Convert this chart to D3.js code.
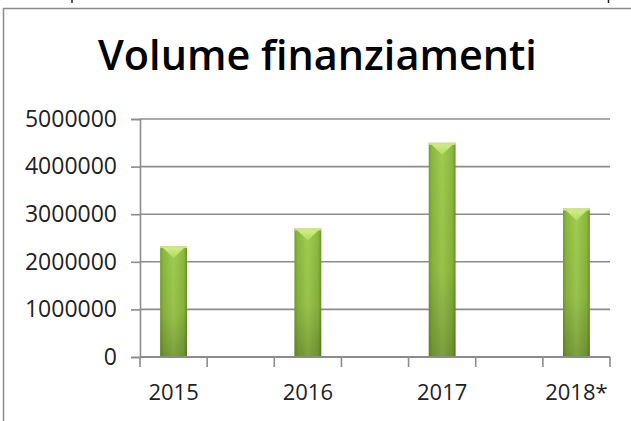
<!DOCTYPE html>
<html><head><meta charset="utf-8">
<script src="https://cdn.jsdelivr.net/npm/d3@7"></script>
<style>html,body{margin:0;padding:0;background:#fff;overflow:hidden}</style>
</head><body>
<svg id="c" width="631" height="421"></svg>
<script>
const title = "Volume finanziamenti";
const categories = ["2015", "", "2016", "", "2017", "", "2018*"];
const values = [2330000, null, 2700000, null, 4500000, null, 3120000];
const yTicks = [0, 1000000, 2000000, 3000000, 4000000, 5000000];

const svg = d3.select("#c");
const W = 631, H = 421;
const m = {left: 140, right: 21, top: 119, bottom: 64};

// frame
svg.append("path").attr("d", `M3.5,${H} V8.5 H${W}`).attr("fill","none").attr("stroke","#8a8a8a").attr("stroke-width",1.5);
svg.append("line").attr("x1",72).attr("x2",72).attr("y1",0).attr("y2",3).attr("stroke","#222").attr("stroke-width",1.5);
svg.append("line").attr("x1",608.5).attr("x2",608.5).attr("y1",0).attr("y2",3).attr("stroke","#222").attr("stroke-width",1.5);

const x = d3.scaleBand().domain(d3.range(categories.length)).range([m.left, W - m.right]).paddingInner(0.6).paddingOuter(0.3);
const y = d3.scaleLinear().domain([0, 5000000]).range([H - m.bottom, m.top]);

// title
const t = svg.append("text").attr("x", 317.5).attr("y", 70).attr("text-anchor","middle")
  .attr("font-family","'Open Sans', 'Noto Sans', sans-serif").attr("font-weight","600")
  .attr("font-size", 36).attr("fill","#000").text(title);
const tw = t.node().getComputedTextLength();
t.attr("font-size", 36 * 439 / tw);

// gridlines
svg.append("g").selectAll("line").data(yTicks.filter(d=>d>0)).join("line")
  .attr("x1", m.left).attr("x2", W - m.right)
  .attr("y1", d=>y(d)).attr("y2", d=>y(d))
  .attr("stroke","#8c8c8c").attr("stroke-width",1.6);

// y axis
const yAxis = svg.append("g").attr("transform",`translate(${m.left},0)`)
  .call(d3.axisLeft(y).tickValues(yTicks).tickFormat(d3.format("d")).tickSize(9).tickPadding(14));
yAxis.select(".domain").attr("stroke","#8c8c8c").attr("stroke-width",1.6);
yAxis.selectAll(".tick line").attr("stroke","#8c8c8c").attr("stroke-width",1.6);
yAxis.selectAll("text").attr("font-family","'Open Sans','Noto Sans',sans-serif").attr("font-size",23).attr("fill","#222");

// defs for bar gradient
const defs = svg.append("defs");
const gh = defs.append("linearGradient").attr("id","gh").attr("x1","0").attr("x2","1").attr("y1","0").attr("y2","0");
[["0%","#739e2e"],["12%","#8ab83e"],["50%","#a0cc50"],["88%","#8ab83e"],["100%","#6a942b"]]
  .forEach(([o,c])=>gh.append("stop").attr("offset",o).attr("stop-color",c));
const gv = defs.append("linearGradient").attr("id","gv").attr("x1","0").attr("x2","0").attr("y1","0").attr("y2","1");
[["0%","#000",0],["60%","#000",0.05],["100%","#000",0.22]]
  .forEach(([o,c,a])=>gv.append("stop").attr("offset",o).attr("stop-color",c).attr("stop-opacity",a));
const gt = defs.append("linearGradient").attr("id","gt").attr("x1","0").attr("x2","0").attr("y1","0").attr("y2","1");
[["0%","#d6f08e"],["100%","#b0d95e"]].forEach(([o,c])=>gt.append("stop").attr("offset",o).attr("stop-color",c));

const data = values.map((v,i)=>({i, v})).filter(d=>d.v != null);
const bars = svg.append("g").selectAll("g").data(data).join("g");
bars.append("rect").attr("x", d=>x(d.i)).attr("y", d=>y(d.v)).attr("width", x.bandwidth())
  .attr("height", d=>y(0)-y(d.v)).attr("fill","url(#gh)");
bars.append("rect").attr("x", d=>x(d.i)).attr("y", d=>y(d.v)).attr("width", x.bandwidth())
  .attr("height", d=>y(0)-y(d.v)).attr("fill","url(#gv)");
bars.append("path").attr("d", d=>{
  const x0 = x(d.i), x1 = x0 + x.bandwidth(), yt = y(d.v), bw = x.bandwidth();
  return `M${x0+1},${yt} L${x1-1},${yt} L${x0+bw*0.5},${yt+12} Z`;
}).attr("fill","url(#gt)");
bars.append("rect").attr("x", d=>x(d.i)).attr("y", d=>y(d.v)).attr("width", x.bandwidth())
  .attr("height", 2).attr("fill","#c9e682");

// x axis
const step = x.step();
const edges = d3.range(categories.length + 1).map(i => x(0) - x.paddingOuter()*step + i*step);
svg.append("line").attr("x1", m.left).attr("x2", W - m.right).attr("y1", y(0)).attr("y2", y(0))
  .attr("stroke","#8c8c8c").attr("stroke-width",1.8);
svg.append("g").selectAll("line").data(edges).join("line")
  .attr("x1", d=>d).attr("x2", d=>d).attr("y1", y(0)).attr("y2", y(0)+10)
  .attr("stroke","#8c8c8c").attr("stroke-width",1.6);
svg.append("g").selectAll("text").data(categories.map((c,i)=>({c,i})).filter(d=>d.c)).join("text")
  .attr("x", d=>x(d.i)+x.bandwidth()/2).attr("y", 400).attr("text-anchor","middle")
  .attr("font-family","'Open Sans','Noto Sans',sans-serif").attr("font-size",22).attr("fill","#222")
  .text(d=>d.c);
</script>
</body></html>
